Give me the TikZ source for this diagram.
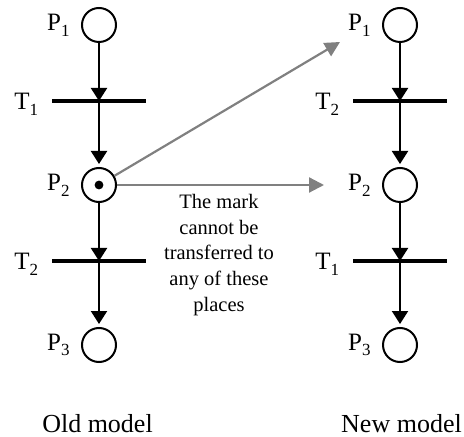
\documentclass[tikz,border=0pt]{standalone}
\usepackage{fontspec}
\setmainfont{Liberation Serif}
\usetikzlibrary{arrows.meta}

% lowered subscript in the text font
\newcommand{\lowsub}[1]{\raisebox{-0.5ex}{\fontsize{8.5}{10}\selectfont #1}}

\tikzset{
  place/.style={circle, draw, line width=1pt, minimum size=17pt, inner sep=0pt},
  bar/.style={fill=black, minimum width=47pt, minimum height=2pt, inner sep=0pt},
  lbl/.style={font=\fontsize{12.5}{14}\selectfont, inner sep=0pt},
  arc/.style={line width=1pt, -{Triangle[length=6.5pt,width=8pt]}},
  move/.style={gray, line width=1.1pt, -{Triangle[length=7.5pt,width=7.5pt]}}
}

\begin{document}
\begin{tikzpicture}[x=0.5pt, y=-0.5pt, line cap=butt]
  % picture frame in pixels of the reference
  \useasboundingbox (0,0) rectangle (464,437);
  \def\xold{99} \def\xnew{400}

  % Old model
  \node[place, label={[lbl, label distance=5.5pt]left:P\lowsub{1}}] (op1) at (\xold,25) {};
  \node[bar, label={[lbl, label distance=6.5pt, yshift=-1.5pt]left:T\lowsub{1}}] (ot1) at (\xold,101) {};
  \node[place, label={[lbl, label distance=5.5pt]left:P\lowsub{2}}] (op2) at (\xold,185) {};
  \node[bar, label={[lbl, label distance=6.5pt, yshift=-1.5pt]left:T\lowsub{2}}] (ot2) at (\xold,261) {};
  \node[place, label={[lbl, label distance=5.5pt]left:P\lowsub{3}}] (op3) at (\xold,345) {};
  \fill (op2) circle (2.2pt); % the mark

  \draw[arc] (op1) -- (ot1.center);
  \draw[arc, shorten >=1.5pt] (ot1.center) -- (op2);
  \draw[arc] (op2) -- (ot2.center);
  \draw[arc, shorten >=1.5pt] (ot2.center) -- (op3);

  % New model
  \node[place, label={[lbl, label distance=5.5pt]left:P\lowsub{1}}] (np1) at (\xnew,25) {};
  \node[bar, label={[lbl, label distance=6.5pt, yshift=-1.5pt]left:T\lowsub{2}}] (nt2) at (\xnew,101) {};
  \node[place, label={[lbl, label distance=5.5pt]left:P\lowsub{2}}] (np2) at (\xnew,185) {};
  \node[bar, label={[lbl, label distance=6.5pt, yshift=-1.5pt]left:T\lowsub{1}}] (nt1) at (\xnew,261) {};
  \node[place, label={[lbl, label distance=5.5pt]left:P\lowsub{3}}] (np3) at (\xnew,345) {};

  \draw[arc] (np1) -- (nt2.center);
  \draw[arc, shorten >=1.5pt] (nt2.center) -- (np2);
  \draw[arc] (np2) -- (nt1.center);
  \draw[arc, shorten >=1.5pt] (nt1.center) -- (np3);

  % where the mark would go
  \coordinate (upend) at (340,42);
  \coordinate (midend) at (324,185);
  \draw[move] (op2) -- (upend);
  \draw[move] (op2) -- (midend);

  \node[align=center, font=\fontsize{10.25}{12.8}\selectfont, inner sep=0pt] (note) at (219,255)
    {The mark\\cannot be\\transferred to\\any of these\\places};

  % captions
  \node[font=\fontsize{13}{15}\selectfont, inner sep=0pt] (oldcap) at (97.5,424) {Old model};
  \node[font=\fontsize{13}{15}\selectfont, inner sep=0pt] (newcap) at (401.5,424) {New model};
\end{tikzpicture}
\end{document}
